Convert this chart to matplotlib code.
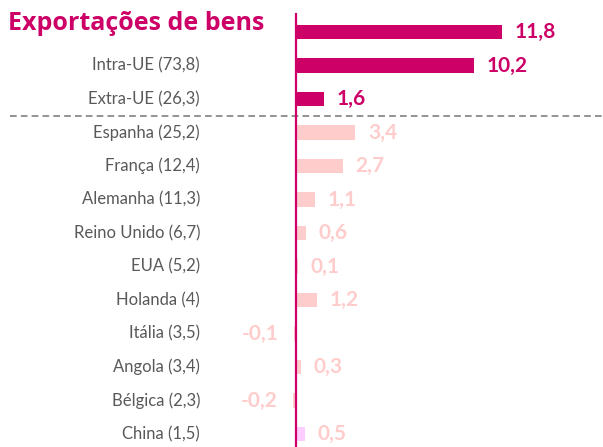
import matplotlib
matplotlib.use("Agg")
import matplotlib.pyplot as plt

categories = ["", "Intra-UE (73,8)", "Extra-UE (26,3)", "Espanha (25,2)", "França (12,4)",
              "Alemanha (11,3)", "Reino Unido (6,7)", "EUA (5,2)", "Holanda (4)",
              "Itália (3,5)", "Angola (3,4)", "Bélgica (2,3)", "China (1,5)"]
values = [11.8, 10.2, 1.6, 3.4, 2.7, 1.1, 0.6, 0.1, 1.2, -0.1, 0.3, -0.2, 0.5]
value_labels = ["11,8", "10,2", "1,6", "3,4", "2,7", "1,1", "0,6", "0,1", "1,2",
                "-0,1", "0,3", "-0,2", "0,5"]

dark = "#CC0066"
light = "#FFCCCC"
china = "#FFCCFF"
bar_colors = [dark] * 3 + [light] * 9 + [china]
text_colors = [dark] * 3 + [light] * 10

plt.rcParams["font.family"] = ["Lato", "DejaVu Sans"]

fig = plt.figure(figsize=(6.03, 4.47), dpi=100)
ax = fig.add_axes([0, 0, 1, 1])
ax.set_xlim(-296 / 17.46, (603 - 296) / 17.46)
ax.set_ylim((447 - 32) / 33.5, -32 / 33.5)
ax.axis("off")

ypos = list(range(len(values)))
ax.barh(ypos, values, height=0.42, color=bar_colors, zorder=2)

for y, v, lab, c in zip(ypos, values, value_labels, text_colors):
    if v >= 0:
        ax.annotate(lab, (v, y), xytext=(9, 0), textcoords="offset points",
                    ha="left", va="center", fontsize=15, fontweight="bold", color=c)
    else:
        ax.annotate(lab, (v, y), xytext=(-11, 0), textcoords="offset points",
                    ha="right", va="center", fontsize=15, fontweight="bold", color=c)

for y, cat in zip(ypos, categories):
    if cat:
        ax.annotate(cat, (0, y), xytext=(-96 * 0.72, 0), textcoords="offset points",
                    xycoords="data", ha="right", va="center", fontsize=12, color="#595959")

# zero line
top_frac = 1 - 14 / 447
ax.axvline(0, ymin=0, ymax=top_frac, color=dark, lw=1.6, zorder=3)

# separator
ax.axhline(2.5, xmin=10 / 603, xmax=1, color="#808080", lw=1.2, ls=(0, (4, 2.5)), zorder=1)

fig.text(8 / 603, 1 - 23 / 447, "Exportações de bens", ha="left", va="center",
         fontsize=18, fontweight="bold", color=dark, family=["Open Sans", "DejaVu Sans"])

fig.savefig("out.png", dpi=100)
